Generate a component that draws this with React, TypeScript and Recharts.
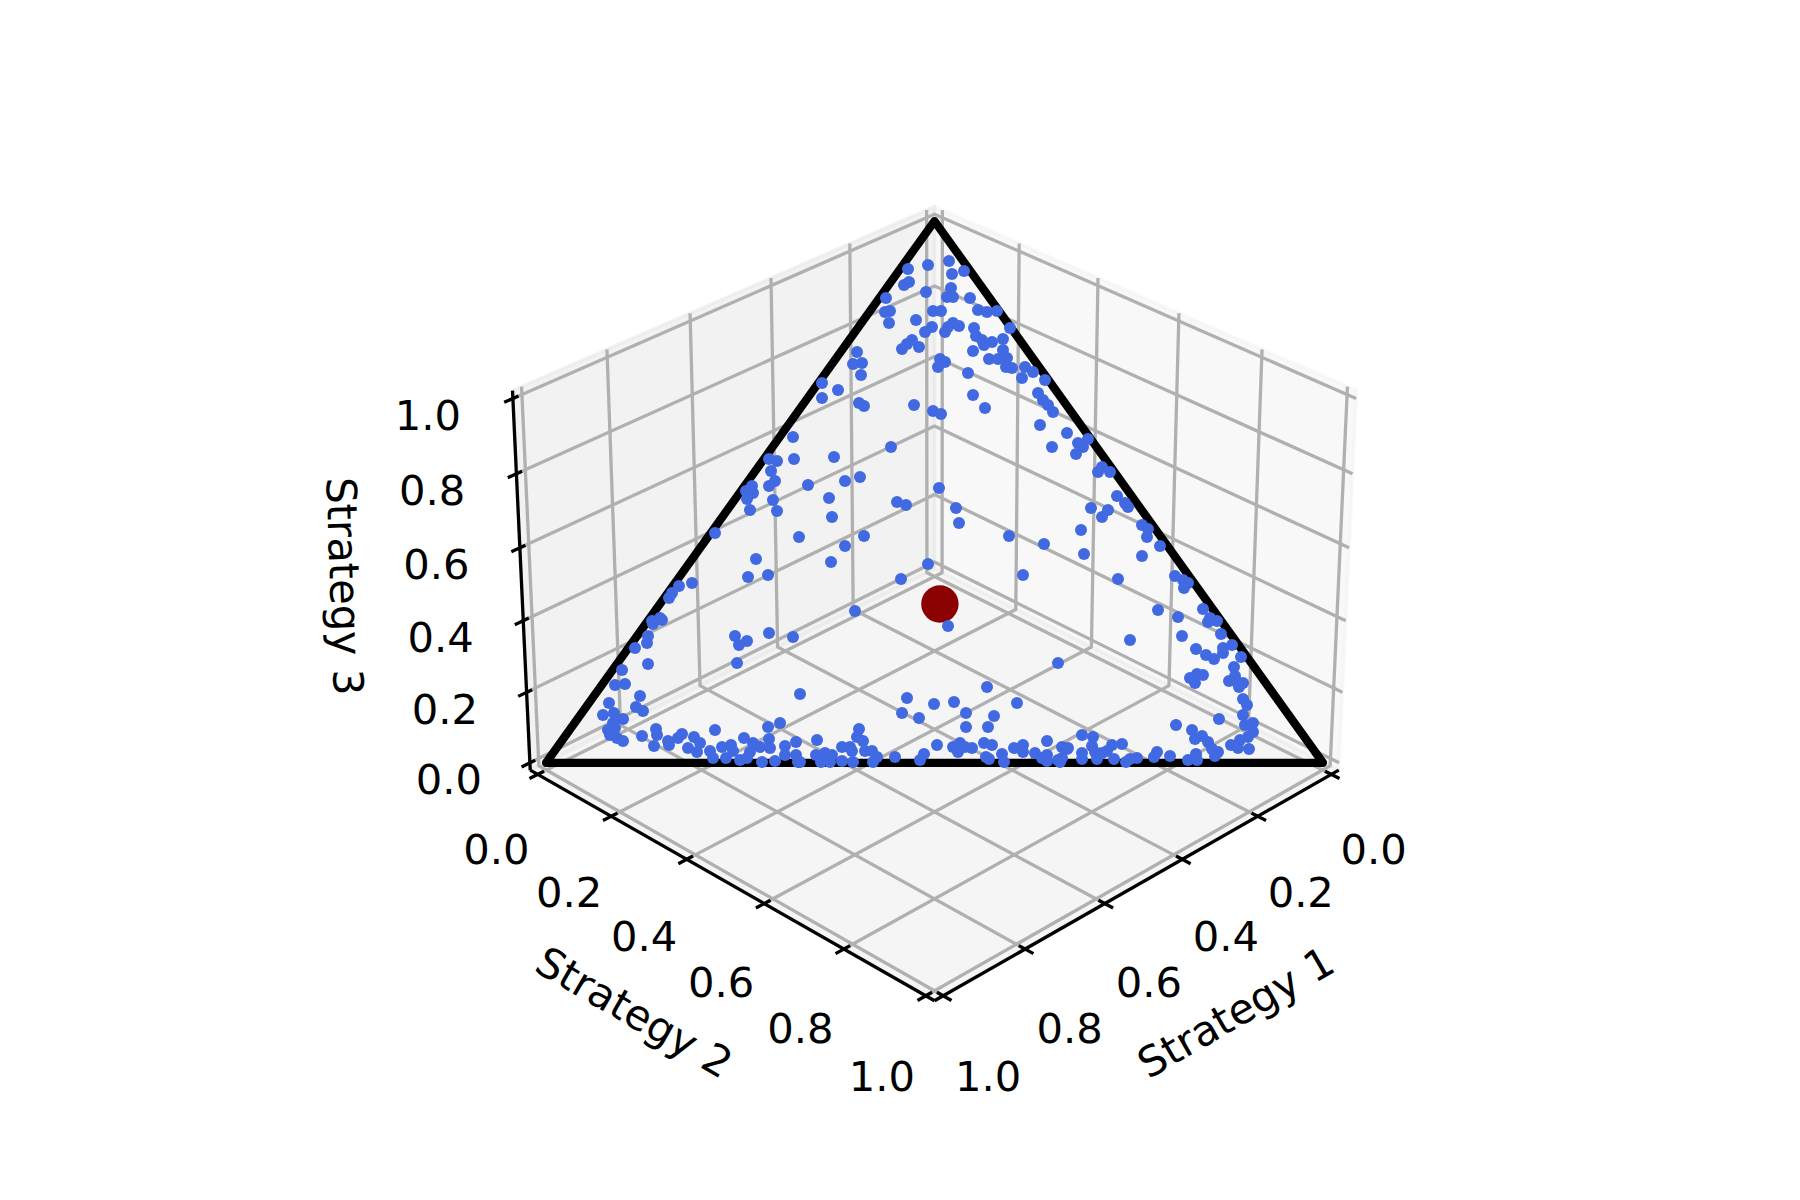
import React from "react";
import { ScatterChart, Scatter, XAxis, YAxis } from "recharts";

// Axis ticks of the simplex plot
const tickValues = [0, 0.2, 0.4, 0.6, 0.8, 1];
const tickLabels = ["0.0", "0.2", "0.4", "0.6", "0.8", "1.0"];
const axisTitles = ["Strategy 1", "Strategy 2", "Strategy 3"];

// Simplex corners as shares of strategies 1, 2, 3
const simplexCorners: number[][] = [[1, 0, 0], [0, 1, 0], [0, 0, 1], [1, 0, 0]];
// Mean population, shares of strategies 1, 2, 3
const meanShares = [0.349, 0.363, 0.288];

// Population samples, in projected plane units
const cloudTop: number[][] = [
  [949,261],[928,265],[908,269],[964,271],[952,274],[909,282],[904,285],[951,288],[926,292],[970,298],[886,298],[947,297],[953,297],[978,310],[987,312],[997,311],[933,311],[941,311],[890,311],[885,312],[889,323],[916,320],[953,323],[959,326],[948,327],[945,332],[974,328],[932,327],[925,332],[1010,328],[976,336],[982,340],[992,342],[1003,339],[984,345],[912,340],[907,344],[902,349],[919,347],[973,351],[1003,350],[857,352],[862,363],[853,364],[989,359],[998,359],[1007,358],[940,359],[945,362],[938,367],[1006,367],[1012,368],[1025,367],[1033,372],[1022,378],[968,373],[861,375],[1045,380],[822,383],[838,390],[822,398],[1038,393],[973,395],[1043,400],[859,403],[864,406],[914,405],[985,408],[1048,405],[1053,412],[933,411],[941,414],
];
const cloudRight: number[][] = [
  [1040,425],[1067,433],[1088,439],[1078,443],[1083,447],[1052,447],[1076,454],[1102,467],[1098,472],[1110,472],[939,488],[1117,496],[1125,503],[1128,507],[1091,508],[1108,510],[1102,517],[956,508],[959,523],[1142,525],[1148,529],[1147,537],[1081,530],[1009,536],[1044,544],[1160,546],[1084,554],[1142,556],[928,564],[1023,575],[1118,579],[1175,576],[1183,580],[1188,583],[1184,588],[1158,610],[1203,609],[1178,617],[1210,618],[1217,621],
];
const cloudLeft: number[][] = [
  [793,437],[891,447],[769,459],[777,461],[794,459],[834,457],[771,471],[775,481],[769,486],[808,485],[845,481],[860,477],[752,486],[746,491],[753,493],[747,499],[773,500],[829,498],[750,510],[777,511],[832,517],[897,502],[906,505],[715,533],[799,537],[864,536],[845,546],[756,559],[831,562],[768,575],[748,577],[901,579],[692,583],[679,586],[672,593],[669,598],[855,611],[660,618],[652,621],
];
const cloudBaseLeft: number[][] = [
  [662,620],[653,624],[648,636],[647,643],[635,648],[648,664],[622,670],[615,685],[625,684],[640,696],[609,703],[636,707],[643,711],[603,715],[614,713],[623,719],[613,723],[608,730],[615,728],[610,735],[617,738],[623,741],[642,736],[656,729],[657,735],[654,746],[668,741],[669,745],[678,738],[682,734],[694,737],[700,743],[688,748],[697,752],[715,730],[710,751],[713,758],[722,747],[726,758],[731,745],[733,751],[740,760],[744,738],[747,758],[753,743],[750,752],[760,747],[762,762],[768,727],[780,723],[769,739],[770,748],[775,761],[785,746],[785,755],[796,742],[796,755],[798,762],[735,636],[747,641],[739,645],[769,633],[793,637],[737,663],[800,694],
];
const cloudBaseMiddle: number[][] = [
  [948,626],[1058,663],[907,698],[987,687],[1017,703],[954,702],[934,704],[902,713],[919,718],[966,713],[994,716],[966,727],[988,727],[859,729],[857,737],[863,741],[817,740],[1047,741],[937,745],[960,743],[953,747],[958,752],[965,747],[972,748],[984,743],[992,745],[1023,745],[1014,748],[1023,752],[1062,747],[1068,748],[842,747],[850,747],[852,751],[865,751],[872,751],[816,755],[825,753],[832,755],[821,762],[830,762],[842,761],[853,762],[873,762],[877,757],[895,757],[924,754],[920,760],[986,757],[989,759],[1002,754],[1004,762],[1035,753],[1047,755],[1042,758],[1047,761],[1058,760],[800,762],
];
const cloudBaseRight: number[][] = [
  [1208,622],[1221,634],[1182,636],[1130,640],[1196,649],[1206,655],[1214,659],[1223,648],[1232,645],[1223,653],[1241,657],[1234,667],[1235,676],[1197,674],[1203,675],[1190,678],[1195,683],[1229,681],[1237,682],[1243,683],[1239,687],[1243,699],[1247,705],[1243,715],[1219,719],[1176,725],[1253,723],[1245,725],[1192,730],[1253,732],[1248,737],[1202,736],[1195,739],[1208,742],[1240,740],[1231,745],[1238,748],[1249,749],[1212,749],[1218,752],[1215,756],[1196,754],[1188,760],[1197,760],[1170,756],[1157,752],[1154,757],[1137,758],[1130,759],[1126,762],[1122,744],[1112,745],[1107,751],[1114,759],[1082,735],[1093,737],[1092,746],[1095,752],[1102,753],[1097,759],[1082,753],[1082,759],[1067,749],[1062,758],[1060,762],
];

const allCloud = [...cloudTop, ...cloudRight, ...cloudLeft, ...cloudBaseLeft, ...cloudBaseMiddle, ...cloudBaseRight].map(([x, y]) => ({ x, y }));

// Perspective view of the 3D box: elevation 30, azimuth 45, camera distance 10
const LO = -1 / 48;
const HI = 1 + 1 / 48;
const ASPECT = [1.1428, 1.1428, 0.8571];
const N = [0.61237, 0.61237, 0.5];
const U = [-0.70711, 0.70711, 0];
const V = [-0.35355, -0.35355, 0.86603];
const SCALE = 511;
const CX = 934.5;
const CY = 584.4;
const dot = (a: number[], b: number[]) => a[0] * b[0] + a[1] * b[1] + a[2] * b[2];
function project(s: number[]) {
  const d = s.map((v, i) => ((v - LO) / (HI - LO) - 0.5) * ASPECT[i]);
  const f = 10 / (10 - dot(d, N));
  return { x: CX + SCALE * f * dot(d, U), y: CY - SCALE * f * dot(d, V) };
}

const GRID = "#b0b0b0";
type Path = { pts: number[][]; stroke: string; width: number; fill?: string };

const paneEdge = (c: string): Path => ({ pts: [], stroke: c, width: 3.3, fill: c });
const panes: Path[] = [
  { ...paneEdge("rgba(242,242,242,0.5)"), pts: [[LO, LO, LO], [LO, HI, LO], [LO, HI, HI], [LO, LO, HI], [LO, LO, LO]] },
  { ...paneEdge("rgba(230,230,230,0.5)"), pts: [[LO, LO, LO], [HI, LO, LO], [HI, LO, HI], [LO, LO, HI], [LO, LO, LO]] },
  { ...paneEdge("rgba(236,236,236,0.5)"), pts: [[LO, LO, LO], [HI, LO, LO], [HI, HI, LO], [LO, HI, LO], [LO, LO, LO]] },
];
const gridPaths: Path[] = tickValues.flatMap((t) => [
  { pts: [[t, HI, LO], [t, LO, LO], [t, LO, HI]], stroke: GRID, width: 3.3 },
  { pts: [[HI, t, LO], [LO, t, LO], [LO, t, HI]], stroke: GRID, width: 3.3 },
  { pts: [[HI, LO, t], [LO, LO, t], [LO, HI, t]], stroke: GRID, width: 3.3 },
]);
const axisPaths: Path[] = [
  { pts: [[LO, HI, LO], [HI, HI, LO]], stroke: "#000", width: 3.3 },
  { pts: [[HI, LO, LO], [HI, HI, LO]], stroke: "#000", width: 3.3 },
  { pts: [[HI, LO, LO], [HI, LO, HI]], stroke: "#000", width: 3.3 },
];
const tickPaths: Path[] = tickValues.flatMap((t) => [
  { pts: [[t, HI + 0.02, LO], [t, HI - 0.015, LO]], stroke: "#000", width: 3.3 },
  { pts: [[HI + 0.02, t, LO], [HI - 0.015, t, LO]], stroke: "#000", width: 3.3 },
  { pts: [[HI + 0.02, LO, t], [HI - 0.013, LO, t]], stroke: "#000", width: 3.3 },
]);
const triangle: Path = { pts: simplexCorners, stroke: "#000", width: 8.33 };
const allPaths = [...panes, ...gridPaths, ...axisPaths, ...tickPaths, triangle];

type Lab = { x: number; y: number; text: string; rot: number };
const labels: Lab[] = [
  ...tickValues.flatMap((t, i) => {
    const a = project([t, HI, LO]);
    const b = project([HI, t, LO]);
    const c = project([HI, LO, t]);
    return [
      { x: a.x + 42.5 + 2.5 * t, y: a.y + 75 + 6 * t, text: tickLabels[i], rot: 0 },
      { x: b.x - 41.5 - 2.5 * t, y: b.y + 75 + 6 * t, text: tickLabels[i], rot: 0 },
      { x: c.x - 81 - 4 * t, y: c.y + 17, text: tickLabels[i], rot: 0 },
    ];
  }),
  (() => { const m = project([0.5, HI, LO]); return { x: m.x + 92, y: m.y + 131, text: axisTitles[0], rot: -30 }; })(),
  (() => { const m = project([HI, 0.5, LO]); return { x: m.x - 91, y: m.y + 131, text: axisTitles[1], rot: 30 }; })(),
  (() => { const m = project([HI, LO, 0.5]); return { x: m.x - 177, y: m.y + 2, text: axisTitles[2], rot: 88 }; })(),
];

const meanPoint = [project(meanShares)];

const none = () => <g />;

export default function App() {
  return (
    <div style={{ position: "absolute", left: 0, top: 0, width: 1800, height: 1200, background: "#fff" }}>
      <ScatterChart width={1800} height={1200} margin={{ top: 0, right: 0, bottom: 0, left: 0 }}>
        <XAxis type="number" dataKey="x" domain={[0, 1800]} hide />
        <YAxis type="number" dataKey="y" domain={[0, 1200]} reversed hide />
        {allPaths.map((p, i) => (
          <Scatter
            key={"path" + i}
            data={p.pts.map(project)}
            isAnimationActive={false}
            shape={none}
            line={(lp: any) => (
              <polyline
                points={lp.points.map((q: any) => `${q.x},${q.y}`).join(" ")}
                fill={p.fill ?? "none"}
                stroke={p.stroke}
                strokeWidth={p.width}
                strokeLinejoin="round"
                strokeLinecap={p.width > 5 ? "round" : "butt"}
              />
            )}
          />
        ))}
        <Scatter
          data={meanPoint}
          isAnimationActive={false}
          shape={(d: any) => <circle cx={d.cx} cy={d.cy} r={18.7} fill="#8b0000" />}
        />
        <Scatter
          data={allCloud}
          isAnimationActive={false}
          shape={(d: any) => <circle cx={d.cx} cy={d.cy} r={6} fill="#4169e1" />}
        />
        <Scatter
          data={labels}
          isAnimationActive={false}
          shape={(d: any) => (
            <text
              x={d.cx}
              y={d.cy}
              transform={`rotate(${d.payload.rot} ${d.cx} ${d.cy})`}
              fontFamily="'DejaVu Sans'"
              fontSize={41.67}
              fill="#000"
              textAnchor="middle"
              dominantBaseline="central"
            >
              {d.payload.text}
            </text>
          )}
        />
      </ScatterChart>
    </div>
  );
}
